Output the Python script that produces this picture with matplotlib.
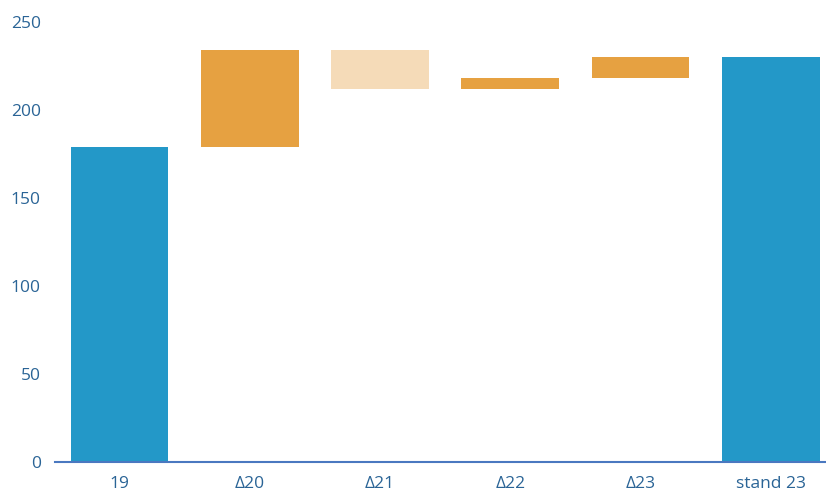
import matplotlib
matplotlib.use("Agg")
import matplotlib.pyplot as plt
import numpy as np

categories = ["19", "Δ20", "Δ21", "Δ22", "Δ23", "stand 23"]
start_value = 179
deltas = [55, -22, 6, 12]
end_value = 230
yticks = [0, 50, 100, 150, 200, 250]

blue = "#2398C8"
orange = "#E6A141"
light = "#F5DBB8"
text_color = "#2A6496"

plt.rcParams['font.family'] = ['Open Sans', 'DejaVu Sans']

fig = plt.figure(figsize=(8.26, 4.95), dpi=100)
ax = fig.add_axes([0.066, 0.0667, 0.946, 0.8889])

x = np.arange(len(categories))
bottoms = []
heights = []
colors = []
bottoms.append(0); heights.append(start_value); colors.append(blue)
level = start_value
for d in deltas:
    if d >= 0:
        bottoms.append(level); heights.append(d); colors.append(orange)
    else:
        bottoms.append(level + d); heights.append(-d); colors.append(light)
    level += d
bottoms.append(0); heights.append(end_value); colors.append(blue)

ax.bar(x, heights, bottom=bottoms, width=0.75, color=colors, edgecolor="none")

ax.set_xlim(-0.5, len(categories) - 0.5)
ax.set_ylim(0, 250)
ax.set_yticks(yticks)
ax.set_xticks(x)
ax.set_xticklabels(categories)
for s in ["top", "right", "left"]:
    ax.spines[s].set_visible(False)
ax.spines["bottom"].set_color("#4A78C0")
ax.spines["bottom"].set_linewidth(1.5)
ax.tick_params(axis="both", length=0, colors=text_color, labelsize=12.5)
ax.tick_params(axis="y", pad=10)
ax.tick_params(axis="x", pad=10)
for lbl in ax.get_yticklabels():
    lbl.set_horizontalalignment("right")

fig.savefig("out.png", dpi=100)
